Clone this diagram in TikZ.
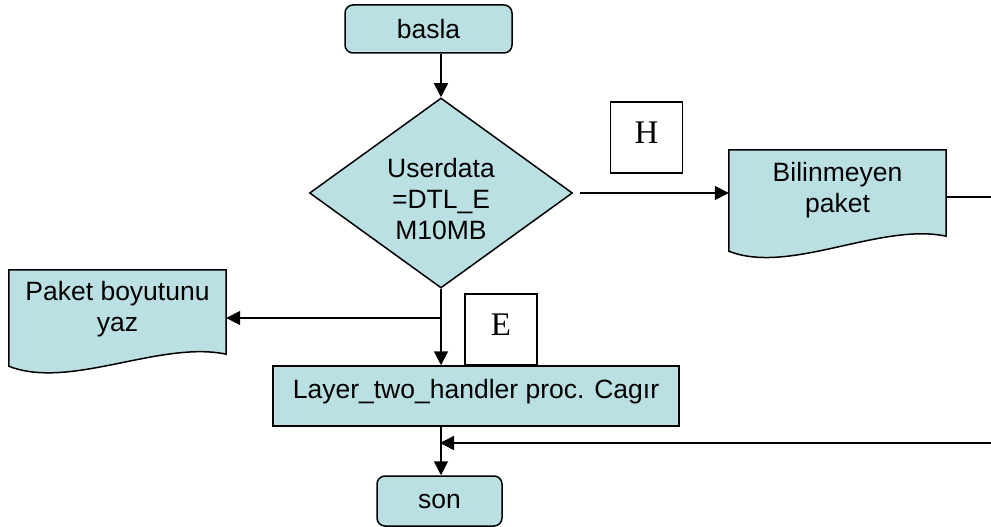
\documentclass[tikz,border=0pt]{standalone}
\usepackage{fontspec}
\setmainfont{Liberation Sans}
\newfontfamily\serifface{Liberation Serif}
\usetikzlibrary{shapes.geometric,arrows.meta,calc}
\definecolor{boxfill}{HTML}{BBE0E3}
\tikzset{
  base/.style={line width=1.5pt},
  flowtext/.style={font=\fontsize{26.5}{31}\selectfont, align=center},
  term/.style={base, draw, fill=boxfill, rounded corners=8pt, flowtext, inner sep=0pt},
  proc/.style={base, draw, fill=boxfill, flowtext, inner sep=0pt},
  decide/.style={base, draw, fill=boxfill, diamond, flowtext, inner sep=0pt},
  doctext/.style={flowtext, inner sep=0pt},
  tag/.style={base, draw, fill=white, inner sep=0pt,
    font=\serifface\fontsize{33}{36}\selectfont,
    text height=22pt, text depth=10pt, minimum width=72pt, minimum height=71pt},
  flow/.style={base, -{Triangle[length=14pt,width=14pt]}},
}
% document shape drawn around a named node: straight top and sides, wavy bottom
\newcommand{\docshape}[2]{%
  \filldraw[base, fill=boxfill]
    (#1.south east) -- (#1.north east) -- (#1.north west)
    -- ($(#1.south west)+(0,#2)$)
    .. controls ($(#1.south west)!0.28!(#1.south east)+(0,#2+24)$)
       and ($(#1.south east)+(-66,-14)$) .. (#1.south east) -- cycle;}
\begin{document}
\begin{tikzpicture}[x=1pt, y=-1pt]
  \useasboundingbox (0,0) rectangle (991,527);

  \node[term, minimum width=167pt, minimum height=48pt] (start) at (428.5,29) {basla};
  \node[decide, minimum width=263pt, minimum height=190pt] (dec) at (441,193) {};
  \node[doctext] at (441,199) {Userdata\\=DTL\_E\\M10MB};

  % document boxes
  \node[doctext, minimum width=217pt, minimum height=86pt] (unk) at (837.5,193) {};
  \docshape{unk}{15}
  \node[doctext] at (837.5,190) {Bilinmeyen\\paket};

  \node[doctext, minimum width=217pt, minimum height=84pt] (size) at (117.5,312) {};
  \docshape{size}{12}
  \node[doctext] at (117.5,309) {Paket boyutunu\\yaz};

  \node[tag] (hbox) at (646.5,137.5) {H};
  \node[tag] (ebox) at (501,329.5) {E};

  \node[proc, minimum width=406pt, minimum height=60pt, text height=19pt, text depth=15pt]
    (layer) at (476,396) {Layer\_two\_handler proc. Cagır};
  \node[term, minimum width=125pt, minimum height=50pt] (stop) at (439.5,501) {son};

  \coordinate (split) at (441,318);
  \coordinate (merge) at (441,443);

  % connectors
  \draw[flow] (dec.north |- start.south) -- (dec.north);
  \draw[flow, shorten <=7pt] (dec.east) -- (unk.west);
  \draw[flow] (dec.south) -- (dec.south |- layer.north);
  \draw[flow] (split) -- (split -| size.east);
  \draw[flow] (dec.south |- layer.south) -- (dec.south |- stop.north);
  \draw[flow, shorten >=-1pt] ($(unk.east)+(0,4)$) -- ++(80,0) |- (merge);
\end{tikzpicture}
\end{document}
